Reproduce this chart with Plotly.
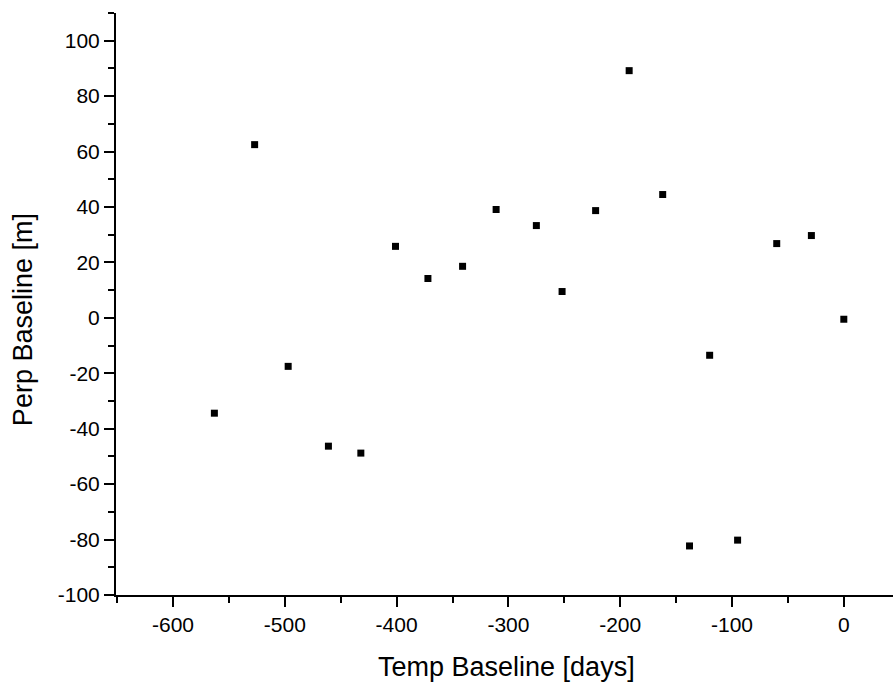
import plotly.graph_objects as go

temp_baseline = [-563, -527, -497, -461, -432, -401, -372, -341, -311, -275,
                 -252, -222, -192, -162, -138, -120, -95, -60, -29, 0]
perp_baseline = [-34.4, 62.5, -17.5, -46.3, -48.8, 25.8, 14.2, 18.6, 39.1, 33.3,
                 9.5, 38.7, 89.2, 44.5, -82.3, -13.5, -80.2, 26.8, 29.7, -0.5]

x_tickvals = [-600, -500, -400, -300, -200, -100, 0]
x_ticktext = ["-600", "-500", "-400", "-300", "-200", "-100", "0"]
y_tickvals = [-100, -80, -60, -40, -20, 0, 20, 40, 60, 80, 100]
y_ticktext = ["-100", "-80", "-60", "-40", "-20", "0", "20", "40", "60", "80", "100"]

FONT = "Liberation Sans, Arial"

fig = go.Figure(go.Scatter(
    x=temp_baseline, y=perp_baseline, mode="markers",
    marker=dict(symbol="square", size=7, color="black", line=dict(width=0)),
))

axis_common = dict(
    showline=True, linecolor="black", linewidth=2,
    ticks="outside", ticklen=10, tickwidth=2, tickcolor="black",
    showgrid=False, zeroline=False,
    tickfont=dict(family=FONT, size=21, color="black"),
    mirror=False,
)

fig.update_xaxes(
    **axis_common,
    range=[-651, 44], tickmode="array", tickvals=x_tickvals, ticktext=x_ticktext,
    minor=dict(tick0=0, dtick=50, ticklen=6, tickwidth=2, tickcolor="black", ticks="outside", showgrid=False),
)
fig.update_yaxes(
    **axis_common,
    range=[-100, 110], tickmode="array", tickvals=y_tickvals, ticktext=y_ticktext,
    minor=dict(tick0=0, dtick=10, ticklen=6, tickwidth=2, tickcolor="black", ticks="outside", showgrid=False),
)

fig.update_layout(
    width=893, height=684,
    margin=dict(l=116, r=0, t=13, b=89),
    plot_bgcolor="white", paper_bgcolor="white",
    showlegend=False,
    annotations=[
        dict(text="Temp Baseline [days]", xref="paper", yref="paper",
             x=0.5026, y=-0.1237, xanchor="center", yanchor="middle",
             showarrow=False, font=dict(family=FONT, size=27, color="black")),
        dict(text="Perp Baseline [m]", xref="paper", yref="paper",
             x=-0.1197, y=0.474, xanchor="center", yanchor="middle", textangle=-90,
             showarrow=False, font=dict(family=FONT, size=27, color="black")),
    ],
)

fig.write_html("out.html", config={"displayModeBar": False},
               post_script="document.body.style.margin='0';")
